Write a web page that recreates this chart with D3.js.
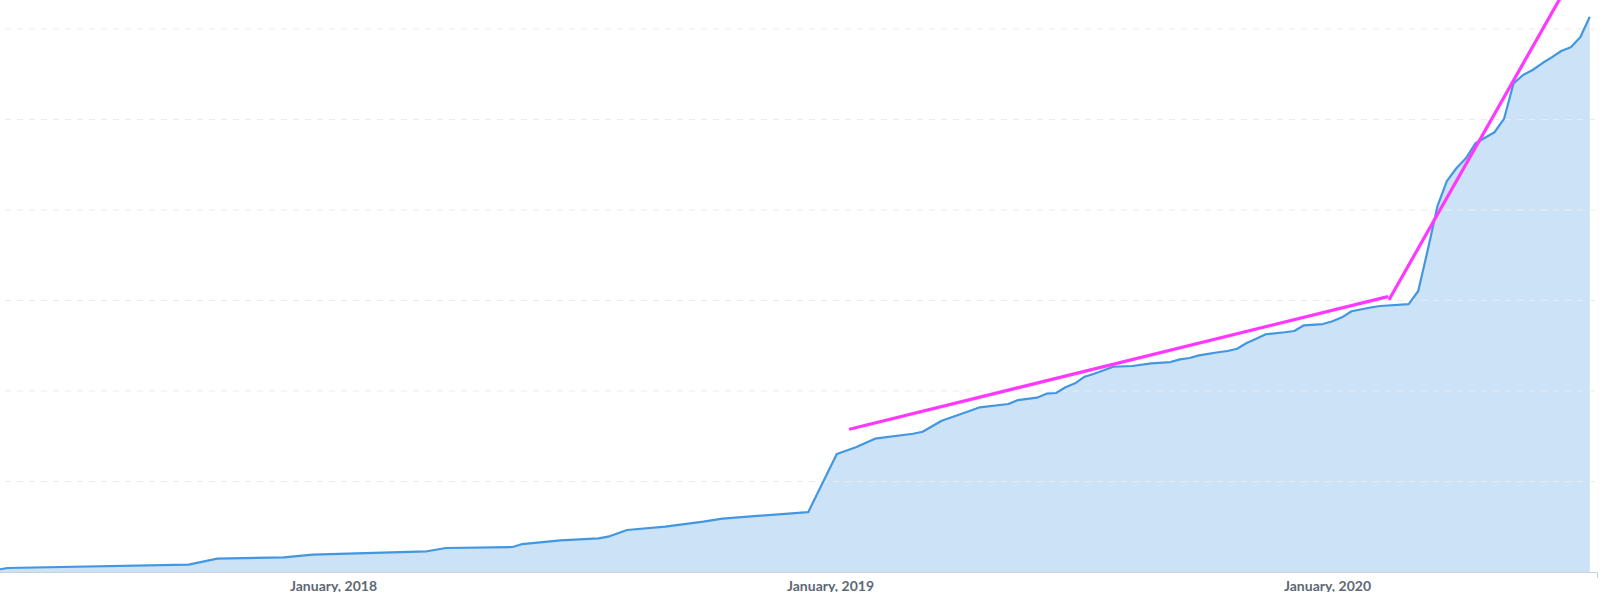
<!DOCTYPE html>
<html><head><meta charset="utf-8">
<script src="https://cdn.jsdelivr.net/npm/d3@7"></script>
<style>html,body{margin:0;padding:0;background:#fff;overflow:hidden}</style>
</head><body><svg id="chart" width="1600" height="592"></svg>
<script>
// ---- data ----
const dates = [
  "2017-04-30","2017-05-07","2017-09-17","2017-10-08","2017-11-26","2017-12-17",
  "2018-03-11","2018-03-25","2018-05-13","2018-05-20","2018-06-17","2018-07-15",
  "2018-07-22","2018-08-05","2018-09-02","2018-09-30","2018-10-14","2018-11-11",
  "2018-12-16","2019-01-06","2019-01-20","2019-02-03","2019-03-03","2019-03-10",
  "2019-03-24","2019-04-14","2019-04-21","2019-05-12","2019-05-19","2019-06-02",
  "2019-06-09","2019-06-16","2019-06-23","2019-06-30","2019-07-07","2019-07-14",
  "2019-07-28","2019-08-11","2019-08-25","2019-09-08","2019-09-15","2019-09-22",
  "2019-09-29","2019-10-13","2019-10-20","2019-10-27","2019-11-03","2019-11-10",
  "2019-11-17","2019-12-01","2019-12-08","2019-12-15","2019-12-29","2020-01-05",
  "2020-01-12","2020-01-19","2020-02-02","2020-02-09","2020-03-01","2020-03-08",
  "2020-03-15","2020-03-22","2020-03-29","2020-04-05","2020-04-12","2020-04-19",
  "2020-04-26","2020-05-03","2020-05-10","2020-05-17","2020-05-24","2020-05-31",
  "2020-06-07","2020-06-14","2020-06-21","2020-06-28","2020-07-05","2020-07-12"
];
const values = [
  0.027,0.044,0.081,0.147,0.162,0.191,
  0.229,0.265,0.276,0.309,0.350,0.372,
  0.390,0.464,0.501,0.556,0.589,0.622,
  0.661,1.304,1.378,1.473,1.528,1.550,
  1.672,1.782,1.820,1.856,1.900,1.926,
  1.970,1.978,2.041,2.085,2.158,2.191,
  2.268,2.276,2.306,2.320,2.350,2.365,
  2.394,2.428,2.442,2.467,2.530,2.578,
  2.627,2.649,2.663,2.726,2.740,2.770,
  2.814,2.881,2.923,2.939,2.961,3.105,
  3.558,4.036,4.320,4.461,4.571,4.737,
  4.799,4.859,5.006,5.400,5.492,5.547,
  5.621,5.687,5.757,5.798,5.908,6.136
];
const tickDates = ["2018-01-01","2019-01-01","2020-01-01"];
const gridValues = [1,2,3,4,5,6];
const trendStartDates = ["2019-01-16","2020-02-16"];
const trendStartValues = [1.58, 3.02];
const trendEndDates = ["2020-02-14","2020-06-24"];
const trendEndValues = [3.04, 6.44];

// ---- drawing ----
const parse = d3.utcParse("%Y-%m-%d");
const data = dates.map((d,i)=>({date:parse(d), value:values[i]}));
const ticks = tickDates.map(parse);

const svg = d3.select("#chart");
const x = d3.scaleUtc().domain([ticks[0], ticks[2]]).range([333, 1327]);
const y = d3.scaleLinear().domain([0, 6]).range([572, 29]);
const xAxisScale = x.copy().domain([x.invert(-20), x.invert(1597)]).range([-20, 1597]);

// area
svg.append("path")
  .datum(data)
  .attr("fill", "#cce2f6")
  .attr("d", d3.area().x(d=>x(d.date)).y0(y(0)).y1(d=>y(d.value)));

// gridlines
svg.append("g").selectAll("line").data(gridValues).join("line")
  .attr("x1", 5).attr("x2", 1597)
  .attr("y1", d=>y(d)).attr("y2", d=>y(d))
  .attr("stroke", "#ebebeb").attr("stroke-width", 1.2)
  .attr("stroke-dasharray", "6 6");

// x axis
const axis = svg.append("g")
  .attr("transform", `translate(0,${y(0)})`)
  .call(d3.axisBottom(xAxisScale)
    .tickValues(ticks)
    .tickFormat(d3.utcFormat("%B, %Y"))
    .tickSizeInner(0).tickSizeOuter(6).tickPadding(9));
axis.select(".domain").attr("stroke", "#c9d0d8");
axis.selectAll("text")
  .attr("fill", "#5d6875")
  .style("font-family", "Lato, sans-serif")
  .style("font-weight", "700")
  .style("font-size", "14px");

// line
svg.append("path")
  .datum(data)
  .attr("fill", "none")
  .attr("stroke", "#4297e0")
  .attr("stroke-width", 2.2)
  .attr("stroke-linejoin", "round")
  .attr("d", d3.line().x(d=>x(d.date)).y(d=>y(d.value)));

// trend lines
const trends = trendStartDates.map((d,i)=>[
  {date:parse(d), value:trendStartValues[i]},
  {date:parse(trendEndDates[i]), value:trendEndValues[i]}
]);
svg.append("g").selectAll("path").data(trends).join("path")
  .attr("fill", "none")
  .attr("stroke", "#ff38ff")
  .attr("stroke-width", 3.2)
  .attr("stroke-linecap", "round")
  .attr("d", d3.line().x(d=>x(d.date)).y(d=>y(d.value)));
</script>
</body></html>
